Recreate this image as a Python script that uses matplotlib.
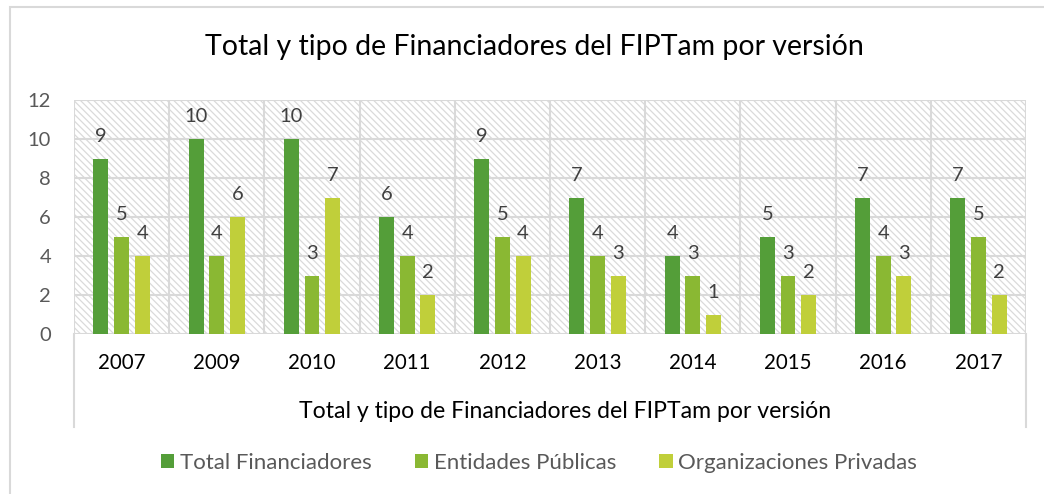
import matplotlib
matplotlib.use("Agg")
import matplotlib.pyplot as plt
from matplotlib.patches import Rectangle, Patch
import numpy as np

years = ["2007", "2009", "2010", "2011", "2012", "2013", "2014", "2015", "2016", "2017"]
total = [9, 10, 10, 6, 9, 7, 4, 5, 7, 7]
publicas = [5, 4, 3, 4, 5, 4, 3, 3, 4, 5]
privadas = [4, 6, 7, 2, 4, 3, 1, 2, 3, 2]
series_names = ["Total Financiadores", "Entidades Públicas", "Organizaciones Privadas"]
colors = ["#549E39", "#8AB833", "#C0CF3A"]
title = "Total y tipo de Financiadores del FIPTam por versión"
yticks = [0, 2, 4, 6, 8, 10, 12]

plt.rcParams['font.family'] = ['Lato', 'DejaVu Sans']
plt.rcParams['hatch.linewidth'] = 0.9

W, H = 1044, 494
fig = plt.figure(figsize=(W / 100, H / 100), dpi=100)
ax = fig.add_axes([74 / W, 1 - 334 / H, (1026 - 74) / W, (334 - 100) / H])

grid_c = "#D9D9D9"
# hatched background
ax.add_patch(Rectangle((0, 0), 1, 1, transform=ax.transAxes, fill=False,
                       hatch='\\\\\\\\\\', edgecolor="#DADADA", lw=0, zorder=0.2))

x = np.arange(len(years))
width = 0.157
offs = [-0.217, 0.0, 0.217]
for vals, off, c, name in zip([total, publicas, privadas], offs, colors, series_names):
    bars = ax.bar(x + off, vals, width, color=c, zorder=3, label=name)
    for b, v in zip(bars, vals):
        ax.annotate(str(v), (b.get_x() + b.get_width() / 2, v), xytext=(0, 10),
                    textcoords="offset points", ha="center", va="bottom",
                    fontsize=14.5, color="#404040", zorder=4)

ax.set_xlim(-0.5, len(years) - 0.5)
ax.set_ylim(0, 12)
ax.set_yticks(yticks)
ax.set_yticklabels([str(t) for t in yticks], fontsize=14.5, color="#595959")
ax.set_xticks(x)
ax.set_xticklabels(years, fontsize=14.8, color="#000000")
ax.tick_params(axis='both', length=0)
ax.tick_params(axis='y', pad=16.5)
ax.tick_params(axis='x', pad=14)

for t in yticks:
    ax.axhline(t, color=grid_c, lw=1.5, zorder=1)
for b in np.arange(-0.5, len(years), 1.0):
    ax.axvline(b, color=grid_c, lw=1.5, zorder=1)
for s in ax.spines.values():
    s.set_visible(False)

# extended category-axis box lines
ext = -(427 - 334) / (334 - 100)
for xx in (0, 1):
    ax.plot([xx, xx], [0, ext], transform=ax.transAxes, color=grid_c, lw=1.5, clip_on=False, zorder=1)

fig.text(534.5 / W, 1 - 55 / H, title, ha="center", va="baseline", fontsize=20.5, color="#000000")
fig.text(565 / W, 1 - 418 / H, title, ha="center", va="baseline", fontsize=16.6, color="#000000")

handles = [Patch(facecolor=c, edgecolor='none') for c in colors]
fig.legend(handles, series_names, loc="center", bbox_to_anchor=(539 / W, 1 - 463 / H), ncol=3,
           frameon=False, fontsize=16, labelcolor="#595959", handlelength=0.6, handleheight=0.6,
           handletextpad=0.25, columnspacing=1.95)

fig.patches.append(Rectangle((9.5 / W, -0.1), 1.2, 1.1 - 7.5 / H, transform=fig.transFigure,
                             fill=False, edgecolor=grid_c, lw=1.5))

fig.savefig("out.png", dpi=100)
